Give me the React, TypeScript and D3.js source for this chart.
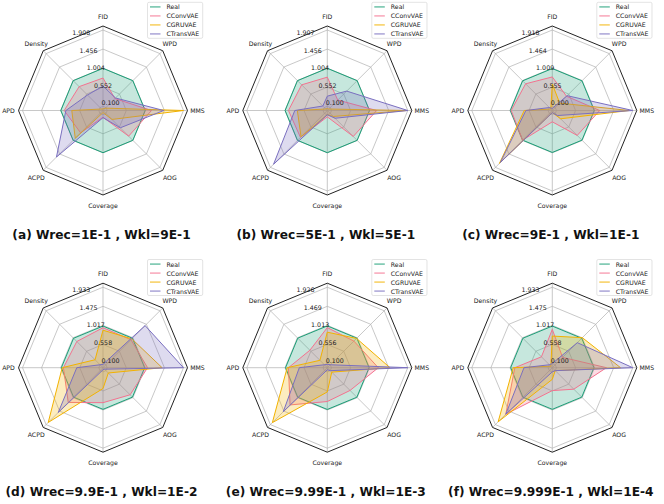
import React from "react";
import * as d3 from "d3";

const axes = ["FID", "Density", "APD", "ACPD", "Coverage", "AOG", "MMS", "WPD"];
const seriesNames = ["Real", "CConvVAE", "CGRUVAE", "CTransVAE"];
const colors = ["#1b9e77", "#f4728f", "#f2b200", "#7a6fc0"];

const titles = [
  "(a) Wrec=1E-1 , Wkl=9E-1",
  "(b) Wrec=5E-1 , Wkl=5E-1",
  "(c) Wrec=9E-1 , Wkl=1E-1",
  "(d) Wrec=9.9E-1 , Wkl=1E-2",
  "(e) Wrec=9.99E-1 , Wkl=1E-3",
  "(f) Wrec=9.999E-1 , Wkl=1E-4",
];

const maxValues = [1.908, 1.907, 1.918, 1.933, 1.926, 1.933];
const tickLabels = [
  ["0.100", "0.552", "1.004", "1.456", "1.908"],
  ["0.100", "0.552", "1.004", "1.456", "1.907"],
  ["0.100", "0.555", "1.009", "1.464", "1.918"],
  ["0.100", "0.558", "1.017", "1.475", "1.933"],
  ["0.100", "0.556", "1.013", "1.469", "1.926"],
  ["0.100", "0.558", "1.017", "1.475", "1.933"],
];

// order: FID, Density, APD, ACPD, Coverage, AOG, MMS, WPD
const realValues = [1, 1, 1, 1, 1, 1, 1, 1];

const convA = [0.77, 0.8, 0.92, 0.75, 0.16, 0.86, 1.15, 0.4];
const gruA = [0.04, 0.05, 0.74, 0.93, 0.05, 0.3, 1.908, 0.08];
const transA = [0.58, 0.52, 0.88, 1.56, 0.17, 0.58, 1.44, 0.42];

const convB = [0.79, 0.86, 0.92, 0.9, 0.15, 0.87, 1.17, 0.35];
const gruB = [0.05, 0.05, 0.71, 0.88, 0.1, 0.2, 1.88, 0.05];
const transB = [0.34, 0.15, 0.77, 1.8, 0.1, 0.26, 1.907, 0.65];

const convC = [0.8, 0.9, 0.98, 1.0, 0.27, 0.84, 1.13, 0.48];
const gruC = [0.63, 0.05, 0.67, 1.78, 0.05, 0.28, 1.83, 0.25];
const transC = [0.05, 0.1, 0.63, 1.75, 0.05, 0.17, 1.918, 0.5];

const convD = [0.96, 0.89, 0.95, 1.18, 0.84, 0.92, 1.07, 0.95];
const gruD = [0.9, 0.27, 0.98, 1.86, 0.5, 0.18, 1.42, 0.98];
const transD = [0.08, 0.1, 0.63, 1.52, 0.05, 0.05, 1.933, 1.43];

const convE = [0.96, 0.59, 0.93, 1.26, 0.81, 0.77, 1.22, 0.9];
const gruE = [0.85, 0.25, 0.96, 1.86, 0.58, 0.15, 1.5, 0.99];
const transE = [0.08, 0.1, 0.67, 1.49, 0.05, 0.1, 1.926, 0.1];

const convF = [0.92, 0.37, 0.9, 1.58, 0.55, 0.73, 1.3, 0.35];
const gruF = [0.76, 0.05, 0.94, 1.84, 0.28, 0.1, 1.64, 1.02];
const transF = [0.1, 0.1, 0.68, 1.58, 0.1, 0.1, 1.933, 0.85];

const panelSeries = [
  [realValues, convA, gruA, transA],
  [realValues, convB, gruB, transB],
  [realValues, convC, gruC, transC],
  [realValues, convD, gruD, transD],
  [realValues, convE, gruE, transE],
  [realValues, convF, gruF, transF],
];

const W = 664;
const H = 504;
const centersX = [103, 327.3, 552.3];
const centersY = [110.5, 367.7];
const titleY = [234.5, 491.5];
const R = 84.5;
const FONT = "DejaVu Sans, sans-serif";

function Radar({ idx }: { idx: number }) {
  const cx = centersX[idx % 3];
  const cy = centersY[Math.floor(idx / 3)];
  const max = maxValues[idx];
  const rScale = d3.scaleLinear().domain([0, max * 1.05]).range([0, R]);
  const n = axes.length;
  const ang = (i: number) => (-i * 2 * Math.PI) / n;
  const tickVals = d3.range(5).map((k) => 0.1 + (k * (max - 0.1)) / 4);

  const poly = (vals: number[]) =>
    d3
      .lineRadial<number>()
      .angle((_, i) => ang(i))
      .radius((v) => rScale(v))
      .curve(d3.curveLinearClosed)(vals) as string;

  const grid = (v: number) => poly(axes.map(() => v));
  const frame = d3
    .lineRadial<number>()
    .angle((_, i) => ang(i))
    .radius(() => R)
    .curve(d3.curveLinearClosed)(axes.map(() => 0)) as string;

  const labelAng = (-22.5 * Math.PI) / 180;
  const lx = (0.5 + 0.5 * 0) as number;
  void lx;

  return (
    <g>
      <g transform={`translate(${cx},${cy})`}>
        {tickVals.map((v, k) => (
          <path key={"g" + k} d={grid(v)} fill="none" stroke="#b0b0b0" strokeWidth={0.7} />
        ))}
        {axes.map((a, i) => (
          <line
            key={"s" + i}
            x1={0}
            y1={0}
            x2={R * Math.sin(ang(i))}
            y2={-R * Math.cos(ang(i))}
            stroke="#b0b0b0"
            strokeWidth={0.7}
          />
        ))}
        <path d={frame} fill="none" stroke="#222" strokeWidth={1} />
        {panelSeries[idx].map((vals, s) => (
          <path
            key={"p" + s}
            d={poly(vals)}
            fill={colors[s]}
            fillOpacity={0.25}
            stroke={colors[s]}
            strokeWidth={1}
            strokeLinejoin="miter"
          />
        ))}
        {tickVals.map((v, k) => {
          const r = rScale(v);
          return (
            <text
              key={"t" + k}
              x={r * Math.sin(labelAng)}
              y={-r * Math.cos(labelAng) - 1.2}
              fontSize={6.3}
              fontFamily={FONT}
              fill="#222"
              textAnchor="start"
            >
              {tickLabels[idx][k]}
            </text>
          );
        })}
        {axes.map((a, i) => (
          <text
            key={"a" + i}
            x={(R + 10) * Math.sin(ang(i))}
            y={-(R + 10) * Math.cos(ang(i))}
            fontSize={6.2}
            fontFamily={FONT}
            fill="#222"
            textAnchor="middle"
            dominantBaseline="central"
          >
            {a}
          </text>
        ))}
        <g transform="translate(44.5,-108.2)">
          <rect x={0} y={0} width={55.2} height={36} rx={1.5} fill="#fff" fillOpacity={0.8} stroke="#d0d0d0" strokeWidth={0.6} />
          {seriesNames.map((nm, s) => (
            <g key={"l" + s} transform={`translate(0,${4.6 + s * 9})`}>
              <line x1={2.5} x2={13} y1={0} y2={0} stroke={colors[s]} strokeOpacity={0.6} strokeWidth={1.6} />
              <text x={19} y={0} fontSize={6.2} fontFamily={FONT} fill="#222" dominantBaseline="central">
                {nm}
              </text>
            </g>
          ))}
        </g>
      </g>
      <text
        x={cx - 1.5}
        y={titleY[Math.floor(idx / 3)]}
        fontSize={12.2}
        fontWeight="bold"
        fontFamily={FONT}
        fill="#111"
        textAnchor="middle"
        dominantBaseline="central"
      >
        {titles[idx]}
      </text>
    </g>
  );
}

export default function App() {
  return (
    <svg width={W} height={H} style={{ position: "absolute", left: 0, top: 0, background: "#fff" }}>
      <rect width={W} height={H} fill="#fff" />
      {d3.range(6).map((i) => (
        <Radar key={i} idx={i} />
      ))}
    </svg>
  );
}
